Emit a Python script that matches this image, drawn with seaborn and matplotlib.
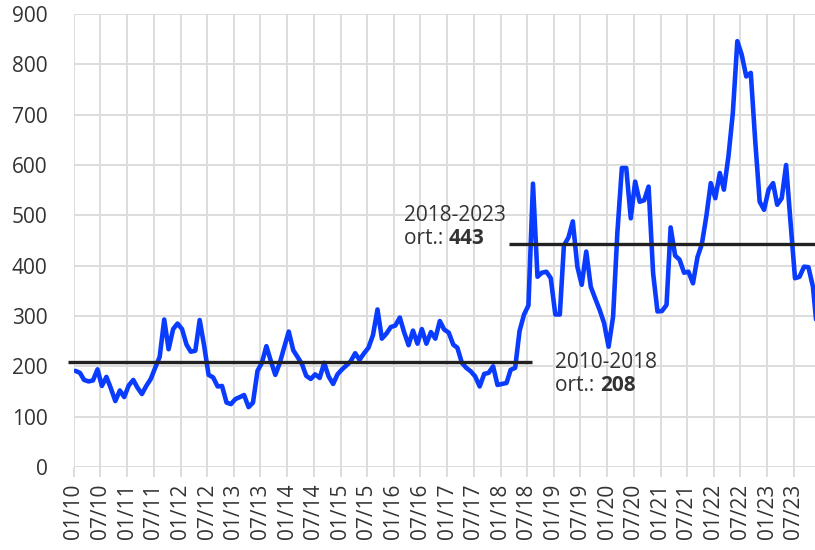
import numpy as np
import pandas as pd
import matplotlib
matplotlib.use("Agg")
import matplotlib.pyplot as plt
import matplotlib.transforms as mtransforms
import seaborn as sns

# Monthly series, January 2010 onwards
start_month = "2010-01-01"
values = [
    191, 187, 173, 170, 172, 194, 161, 179, 156, 131,
    152, 139, 162, 173, 158, 145, 161, 175, 197, 219,
    293, 234, 274, 285, 274, 243, 229, 231, 292, 240,
    183, 178, 160, 161, 128, 125, 135, 139, 143, 119,
    128, 191, 207, 240, 210, 183, 207, 238, 269, 232,
    219, 205, 181, 175, 184, 177, 207, 180, 165, 184,
    194, 202, 210, 226, 213, 226, 237, 262, 313, 255,
    265, 278, 281, 297, 268, 242, 271, 245, 274, 245,
    268, 255, 290, 273, 267, 243, 237, 207, 197, 190,
    180, 160, 185, 187, 200, 163, 165, 167, 193, 197,
    270, 303, 321, 563, 378, 386, 388, 375, 303, 303,
    440, 456, 488, 398, 362, 428, 358, 335, 312, 286,
    239, 299, 465, 594, 594, 494, 567, 527, 530, 557,
    385, 309, 310, 322, 476, 420, 412, 386, 388, 365,
    417, 443, 499, 564, 534, 584, 551, 617, 703, 846,
    819, 776, 783, 650, 527, 511, 551, 564, 521, 534,
    600, 484, 375, 378, 398, 397, 358, 265,
]

# Period averages
period_labels = ["2010-2018", "2018-2023"]
period_means = [208, 443]
period_starts = ["2009-11-24", "2018-02-28"]
period_ends = ["2018-08-04", "2024-02-01"]

y_ticks = [0, 100, 200, 300, 400, 500, 600, 700, 800, 900]

dates = pd.date_range(start_month, periods=len(values), freq="MS") + pd.Timedelta(days=10)
df = pd.DataFrame({"date": dates, "value": values})
tick_dates = pd.date_range("2010-01-01", "2023-07-01", freq="6MS")

sns.set_theme(style="whitegrid")
plt.rcParams["font.family"] = ["Open Sans", "DejaVu Sans"]

TEXT = "#333333"
GRID = "#dddddd"

fig = plt.figure(figsize=(8.15, 5.5), dpi=100)
ax = fig.add_axes([74 / 815, 83 / 550, 741 / 815, 453 / 550])

sns.lineplot(data=df, x="date", y="value", ax=ax, color="#0a3cff",
             linewidth=3.3, zorder=3)

for lbl, m, s, e in zip(period_labels, period_means, period_starts, period_ends):
    seg = pd.DataFrame({"date": pd.to_datetime([s, e]), "value": [m, m]})
    line, = ax.plot(seg["date"], seg["value"], color="#222222", linewidth=2.4,
                    zorder=4, solid_capstyle="butt")
    if lbl == "2010-2018":
        line.set_clip_on(False)

ax.set_xlim(pd.Timestamp("2010-01-01"), pd.Timestamp("2023-11-25"))
ax.set_ylim(0, 900)
ax.set_yticks(y_ticks)
ax.set_xticks(tick_dates)
ax.set_xticklabels([d.strftime("%m/%y") for d in tick_dates], rotation=90)
ax.set_xlabel("")
ax.set_ylabel("")

ax.grid(True, color=GRID, linewidth=1.4)
for sp in ax.spines.values():
    sp.set_visible(False)
ax.tick_params(axis="x", length=7, width=1.4, color=GRID, pad=5,
               labelsize=15, labelcolor=TEXT, bottom=True)
ax.tick_params(axis="y", length=0, pad=19, labelsize=15, labelcolor=TEXT)

# Period annotations: label line plus "ort.: <mean>" with the mean in bold
notes = [
    ("2018-2023", 443, pd.Timestamp("2016-03-10"), 521),
    ("2010-2018", 208, pd.Timestamp("2019-01-12"), 229),
]
fig.canvas.draw()
renderer = fig.canvas.get_renderer()
for title, mean, xd, yv in notes:
    ax.text(xd, yv, title, fontsize=15, color=TEXT, va="top", ha="left")
    t = ax.text(xd, yv - 47, "ort.: ", fontsize=15, color=TEXT,
                va="top", ha="left")
    bb = t.get_window_extent(renderer=renderer)
    off = mtransforms.offset_copy(ax.transData, fig=fig,
                                  x=bb.width * 72 / fig.dpi, y=0, units="points")
    ax.text(xd, yv - 47, f"{mean}", fontsize=15, color=TEXT, va="top",
            ha="left", fontweight="bold", transform=off)

fig.savefig("out.png", dpi=100)
